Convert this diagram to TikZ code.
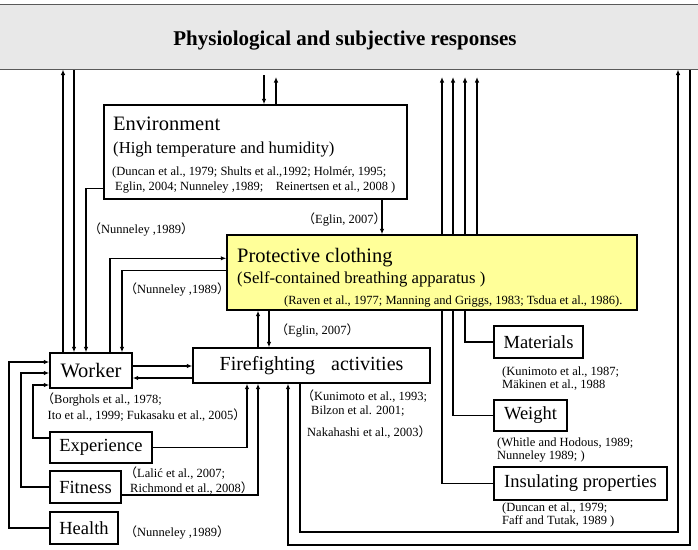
\documentclass[tikz,border=0pt]{standalone}
\usepackage{fontspec}
\setmainfont{Liberation Serif}
\newfontfamily\cjk{Noto Sans CJK JP}
\usetikzlibrary{arrows.meta}
\pgfdeclarelayer{background}
\pgfsetlayers{background,main}
\definecolor{pcyellow}{RGB}{255,255,153}
\definecolor{bargray}{RGB}{232,232,232}
\newcommand\lpar{{\cjk （}}
\newcommand\rpar{{\cjk ）}}
\begin{document}
\begin{tikzpicture}[x=1pt,y=-1pt,
  box/.style={draw=black, line width=1.4pt, inner sep=0pt, font=\fontsize{18.5}{20}\selectfont},
  bigbox/.style={box, font=\fontsize{20.5}{22}\selectfont},
  txt/.style={anchor=base west, inner sep=0pt},
  cite/.style={txt, font=\fontsize{12.5}{14}\selectfont},
  conn/.style={line width=1.2pt},
  arr/.style={conn, -{Latex[length=5.5pt,width=4.5pt]}},
]
\useasboundingbox (0,0) rectangle (698,549);

% top bar
\node[draw=black!65, fill=bargray, line width=1pt, minimum width=712pt, minimum height=65pt,
  inner sep=0pt] (resp) at (345,36.5) {};
\node[inner sep=0pt, anchor=base, font=\bfseries\fontsize{21}{24}\selectfont] (respt) at (345,45)
  {Physiological and subjective responses};

% boxes
\node[box, minimum width=303pt, minimum height=94pt] (env) at (255.5,152) {};
\node[txt, font=\fontsize{20.5}{24}\selectfont] (envt) at (113,130) {Environment};
\node[txt, font=\fontsize{16.7}{20}\selectfont] (envs) at (113,153) {(High temperature and humidity)};
\node[cite] (envc1) at (112,175) {(Duncan et al., 1979; Shults et al.,1992; Holmér, 1995;};
\node[cite] (envc2) at (115,190) {Eglin, 2004; Nunneley ,1989;\quad Reinertsen et al., 2008 )};

\node[box, fill=pcyellow, minimum width=410pt, minimum height=75pt] (pc) at (432,272.5) {};
\node[txt, font=\fontsize{20.5}{24}\selectfont] (pct) at (237,262) {Protective clothing};
\node[txt, font=\fontsize{16.7}{20}\selectfont] (pcs) at (237,283) {(Self-contained breathing apparatus )};
\node[cite] (pcc) at (284,304) {(Raven et al., 1977; Manning and Griggs, 1983; Tsdua et al., 1986).};

\node[bigbox, minimum width=82pt, minimum height=35pt] (worker) at (91,370.5) {Worker};
\node[box, font=\fontsize{20}{22}\selectfont, minimum width=237pt, minimum height=35pt] (ff) at (311.5,365.5) {Firefighting\hspace{11pt} activities};
\node[box, minimum width=102pt, minimum height=31pt] (exp) at (101,447.5) {Experience};
\node[box, minimum width=71pt, minimum height=32pt] (fit) at (85.5,487) {Fitness};
\node[box, minimum width=68pt, minimum height=32pt] (hea) at (84,528) {Health};
\node[box, minimum width=89pt, minimum height=32pt] (mat) at (538.5,342) {Materials};
\node[box, minimum width=73pt, minimum height=31pt] (wgt) at (530.5,415.5) {Weight};
\node[box, minimum width=173pt, minimum height=33pt] (ins) at (580.5,483.5) {Insulating properties};

% citations
\node[cite] (n1) at (88.5,233) {\lpar Nunneley ,1989\rpar};
\node[cite] (n2) at (124.5,293) {\lpar Nunneley ,1989\rpar};
\node[cite] (e1) at (302.5,223) {\lpar Eglin, 2007\rpar};
\node[cite] (e2) at (275.5,334) {\lpar Eglin, 2007\rpar};
\node[cite] (b1) at (41.5,403) {\lpar Borghols et al., 1978;};
\node[cite] (b2) at (47.5,419) {Ito et al., 1999; Fukasaku et al., 2005\rpar};
\node[cite] (l1) at (124.5,477) {\lpar Lalić et al., 2007;};
\node[cite] (l2) at (130,492) {Richmond et al., 2008\rpar};
\node[cite] (n3) at (124.5,536) {\lpar Nunneley ,1989\rpar};
\node[cite] (k1) at (301.5,400) {\lpar Kunimoto et al., 1993;};
\node[cite] (k2) at (311,414) {Bilzon et al. 2001;};
\node[cite] (k3) at (307,436) {Nakahashi et al., 2003\rpar};
\node[cite] (m1) at (502,375) {(Kunimoto et al., 1987;};
\node[cite] (m2) at (502,388) {Mäkinen et al., 1988};
\node[cite] (w1) at (497,446) {(Whitle and Hodous, 1989;};
\node[cite] (w2) at (497,459) {Nunneley 1989; )};
\node[cite] (i1) at (502,511) {(Duncan et al., 1979;};
\node[cite] (i2) at (502,524) {Faff and Tutak, 1989 )};

% helper coordinates
\foreach \xx in {9,21,33,63,74,86,110,122,247,258,264,269,276,288,300,382,442,453,465,477,678,690}
  {\coordinate (x\xx) at (\xx,0);}
\coordinate (y366) at (0,366);
\coordinate (y378) at (0,378);
\coordinate (tip264) at (264,75);
\coordinate (tip276) at (276,77);
\coordinate (tip442) at (442,77);
\coordinate (tip453) at (453,77);
\coordinate (tip465) at (465,77);
\coordinate (tip477) at (477,77);
\coordinate (c9) at (9,362);
\coordinate (c21) at (21,373);
\coordinate (c33) at (33,385);
\coordinate (c678) at (678,532);
\coordinate (c690) at (690,545);

\begin{pgfonlayer}{background}
% worker <-> top
\draw[arr] (worker.north -| x63) -- (resp.south -| x63);
\draw[arr] (resp.south -| x74) -- (worker.north -| x74);
% env -> worker
\draw[arr] ([yshift=11pt]env.south west) -| (worker.north -| x86);
% worker <-> pc
\draw[arr] (worker.north -| x110) |- ([yshift=-24pt]pc.north west);
\draw[arr] ([yshift=-36pt]pc.north west) -| (worker.north -| x122);
% env -> pc
\draw[arr] (env.south -| x382) -- (pc.north -| x382);
% top <-> env
\draw[arr] (tip264) -- (env.north -| x264);
\draw[arr] (env.north -| x276) -- (tip276);
% worker <-> ff
\draw[arr] (worker.east |- y366) -- (ff.west |- y366);
\draw[arr] (ff.west |- y378) -- (worker.east |- y378);
% ff <-> pc
\draw[arr] (ff.north -| x258) -- (pc.south -| x258);
\draw[arr] (pc.south -| x269) -- (ff.north -| x269);
% pc sub-factors -> top
\draw[arr] (ins.west) -| (tip442);
\draw[arr] (wgt.west) -| (tip453);
\draw[arr] (mat.west) -| (tip465);
\draw[arr] (pc.north -| x477) -- (tip477);
% ff <-> top
\draw[arr] (ff.south -| x300) |- (c678) -- (resp.south -| x678);
\draw[arr] (resp.south -| x690) -- (c690) -| (ff.south -| x288);
% worker factors
\draw[arr] ([yshift=9.5pt]exp.west) -| (c33) -- (worker.west |- c33);
\draw[arr] (fit.west) -| (c21) -- (worker.west |- c21);
\draw[arr] (hea.west) -| (c9) -- (worker.west |- c9);
\draw[arr] (exp.east) -| (ff.south -| x247);
\draw[arr] ([yshift=-8pt]fit.east) -| (ff.south -| x258);
\end{pgfonlayer}
\end{tikzpicture}
\end{document}
